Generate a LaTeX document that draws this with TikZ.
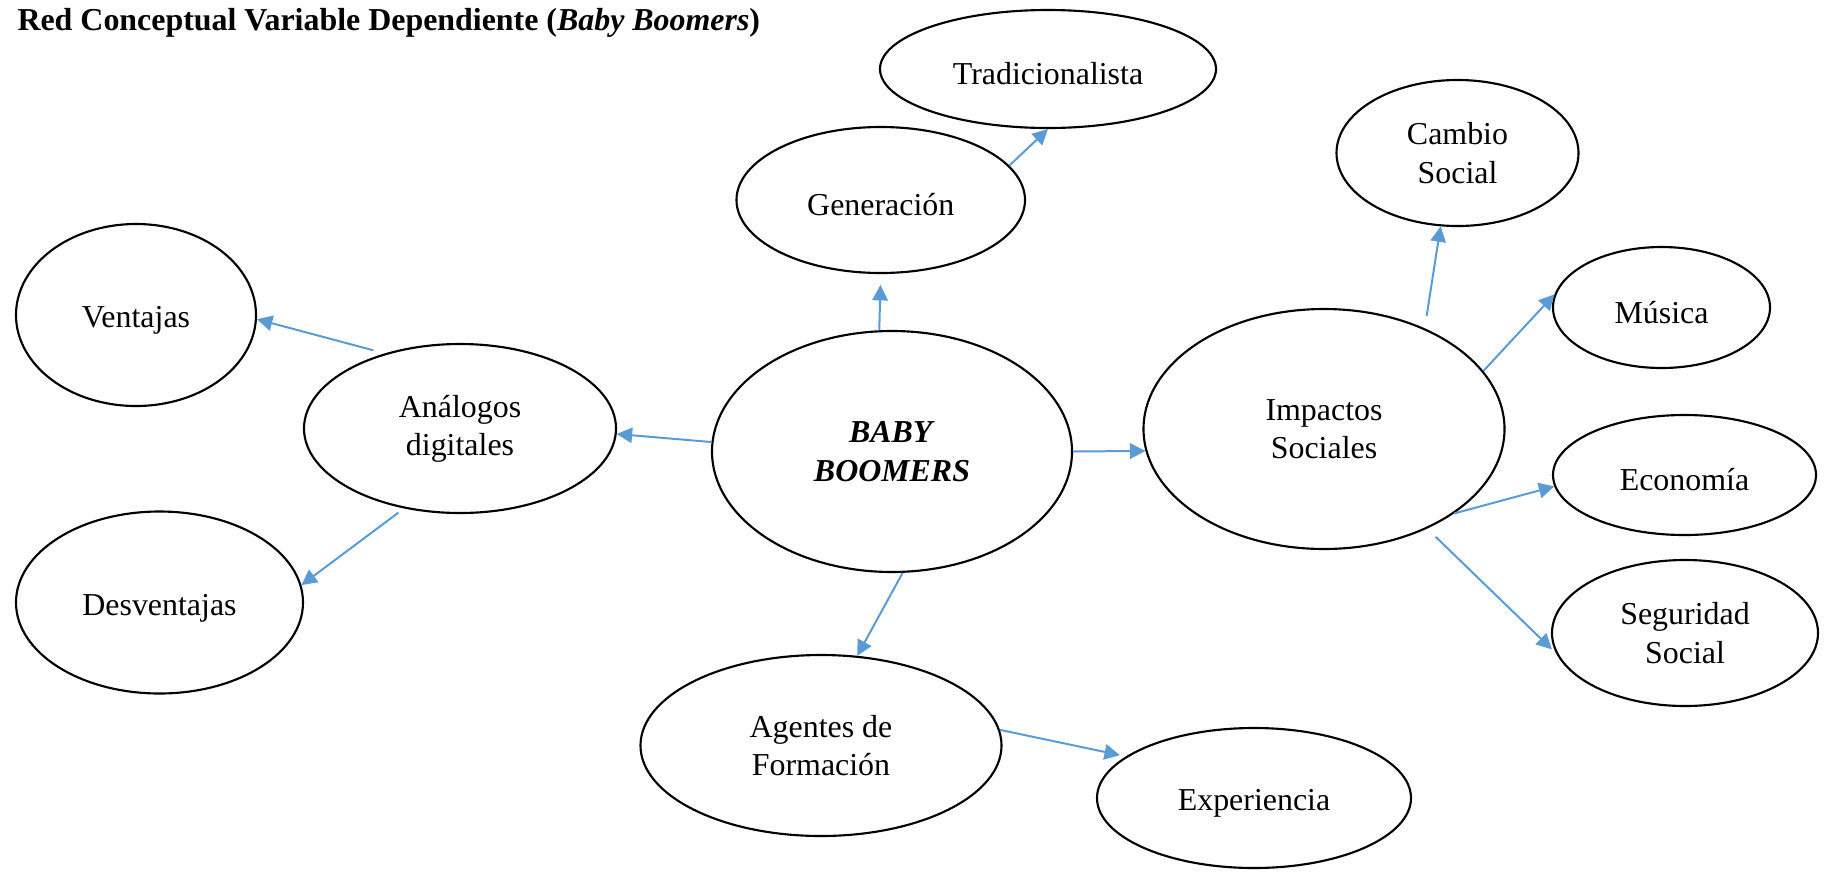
\documentclass[tikz,border=0pt]{standalone}
\usepackage{fontspec}
\setmainfont{Liberation Serif}
\usetikzlibrary{shapes.geometric,arrows.meta}
\definecolor{arrowblue}{HTML}{5B9BD5}
\begin{document}
\begin{tikzpicture}[x=0.376pt,y=-0.376pt,
  bubble/.style={draw=black, line width=0.8pt, ellipse, inner sep=0pt, align=center,
    font=\fontsize{12}{14.4}\selectfont, execute at begin node={\rule{0pt}{12pt}}},
  link/.style={draw=arrowblue, line width=0.75pt, -{Triangle[length=5.8pt,width=5.8pt]}}]
\useasboundingbox (0,0) rectangle (1825,871);
\node[anchor=base west, font=\bfseries\fontsize{12}{14.4}\selectfont, inner sep=0pt] (title) at (17,30)
  {Red Conceptual Variable Dependiente (\textit{Baby Boomers})};
\node[bubble, minimum width=288.5*0.376pt, minimum height=146*0.376pt] (gen) at (880.75,200) {Generación};
\node[bubble, minimum width=336*0.376pt, minimum height=118*0.376pt] (trad) at (1048,69) {Tradicionalista};
\node[bubble, minimum width=360*0.376pt, minimum height=241*0.376pt] (bb) at (892,451.5) {\textbf{\textit{BABY}}\\\textbf{\textit{BOOMERS}}};
\node[bubble, minimum width=312*0.376pt, minimum height=169*0.376pt] (ana) at (460,428.5) {Análogos\\digitales};
\node[bubble, minimum width=240*0.376pt, minimum height=182*0.376pt] (vent) at (136,315) {Ventajas};
\node[bubble, minimum width=287*0.376pt, minimum height=182*0.376pt] (desv) at (159.5,602.5) {Desventajas};
\node[bubble, minimum width=361*0.376pt, minimum height=181*0.376pt] (ag) at (821,745.5) {Agentes de\\Formación};
\node[bubble, minimum width=314*0.376pt, minimum height=140*0.376pt] (exp) at (1254,798) {Experiencia};
\node[bubble, minimum width=361*0.376pt, minimum height=240*0.376pt] (imp) at (1324,429) {Impactos\\Sociales};
\node[bubble, minimum width=242*0.376pt, minimum height=146*0.376pt] (camb) at (1457.5,153) {Cambio\\Social};
\node[bubble, minimum width=217*0.376pt, minimum height=121*0.376pt] (mus) at (1661.5,307.5) {Música};
\node[bubble, minimum width=263*0.376pt, minimum height=120*0.376pt] (eco) at (1684.5,475) {Economía};
\node[bubble, minimum width=266*0.376pt, minimum height=146*0.376pt] (seg) at (1685,633) {Seguridad\\Social};
\draw[link, shorten >=4.1pt] (bb.96) -- (gen.south);
\draw[link] (gen.15) -- (trad.south);
\draw[link] (bb.177) -- (ana.-2);
\draw[link, shorten <=4.5pt] (ana.135) -- (vent.-2);
\draw[link, shorten <=2.6pt] (ana.-125) -- (desv.7);
\draw[link] (bb.-85) -- (ag.68);
\draw[link, shorten >=2.3pt] (ag.5) -- (exp.162);
\draw[link] (bb.east) -- (imp.187);
\draw[link, shorten <=4.7pt] (imp.45) -- (camb.-103);
\draw[link] (imp.20.5) -- (mus.173);
\draw[link] (imp.-33) -- (eco.185);
\draw[link, shorten <=4.4pt, shorten >=2.2pt] (imp.-44.5) -- (seg.189.5);
\end{tikzpicture}
\end{document}
